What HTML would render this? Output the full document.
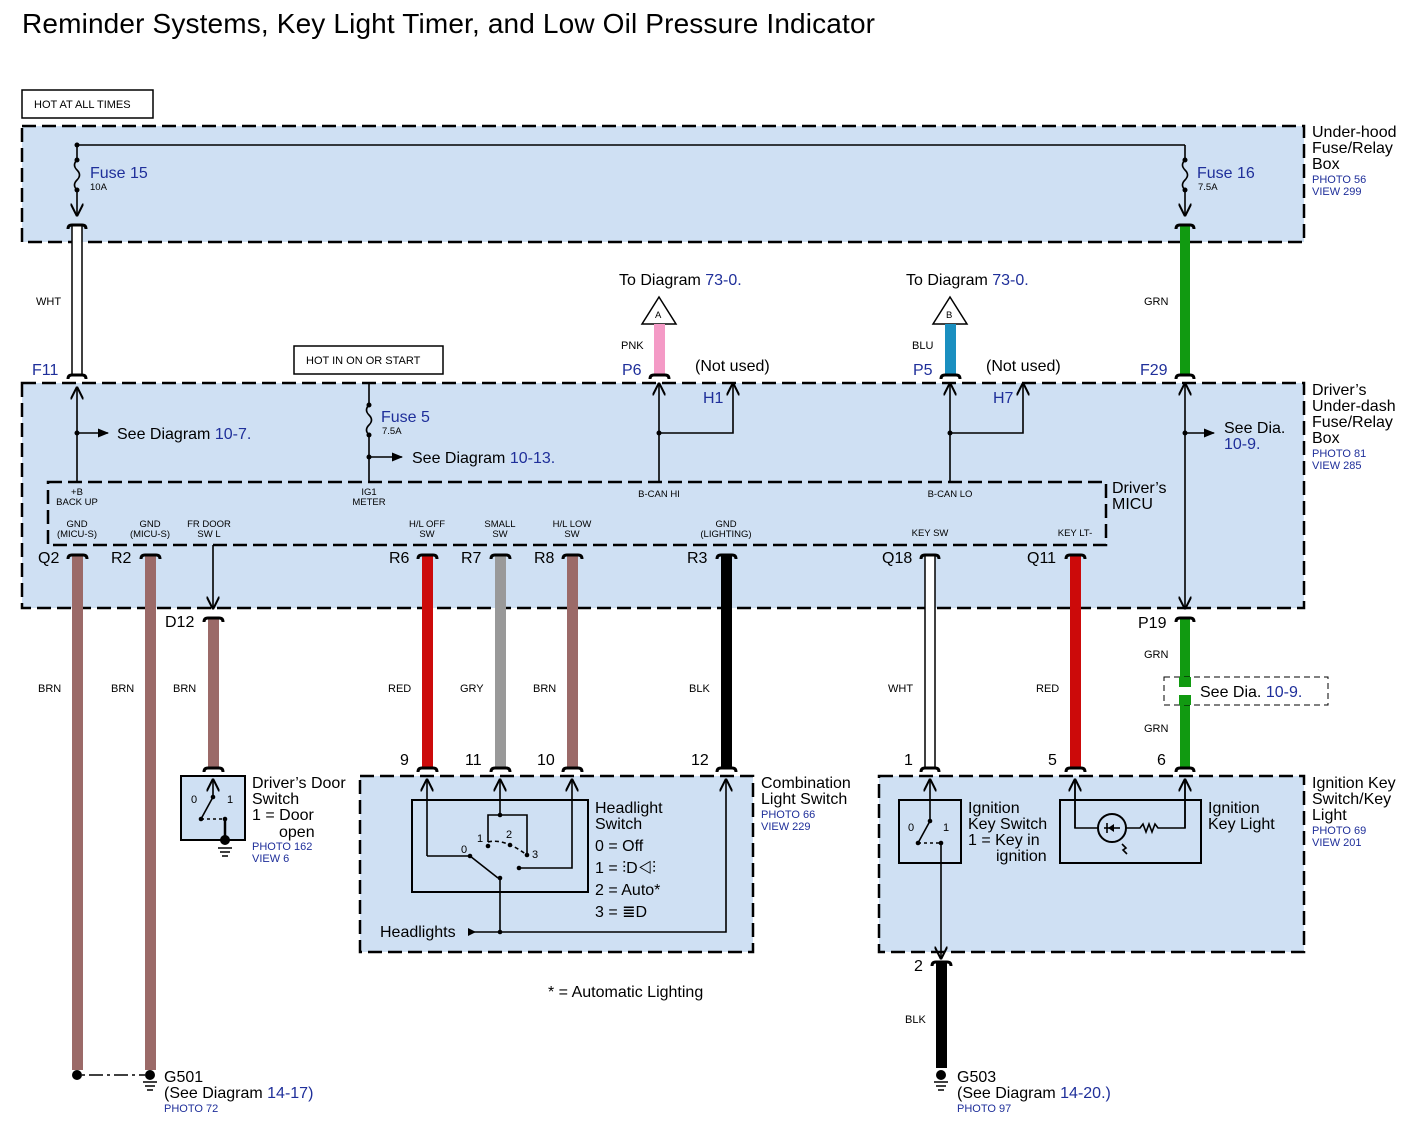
<!DOCTYPE html>
<html><head><meta charset="utf-8"><style>
html,body{margin:0;padding:0;background:#fff}
svg{display:block}
text{font-family:"Liberation Sans",sans-serif;fill:#000}
.b{fill:#1f2f9a}
.l{font-size:16px}
.s{font-size:11px}
.t{font-size:9.5px}
.p{font-size:11px;fill:#1f2f9a}
.box{fill:#cfe0f3;stroke:#000;stroke-width:2.5;stroke-dasharray:14 6}
.ln{stroke:#000;stroke-width:1.6;fill:none}
.cap{stroke:#000;stroke-width:3;fill:none}
</style></head><body>
<svg width="1407" height="1135" viewBox="0 0 1407 1135" xmlns="http://www.w3.org/2000/svg">
<defs>
<marker id="ar" viewBox="0 0 10 10" refX="9" refY="5" markerWidth="8" markerHeight="8" orient="auto-start-reverse"><path d="M0,0 L10,5 L0,10" fill="none" stroke="#000" stroke-width="1.6"/></marker>
<marker id="af" viewBox="0 0 10 10" refX="9" refY="5" markerWidth="7" markerHeight="7" orient="auto"><path d="M0,1 L10,5 L0,9z" fill="#000"/></marker>
</defs>
<text x="22" y="33" style="font-size:28px" textLength="853">Reminder Systems, Key Light Timer, and Low Oil Pressure Indicator</text>

<!-- boxes -->
<rect x="22" y="90" width="131" height="28" fill="#fff" stroke="#000" stroke-width="1.5"/>
<text x="34" y="108" class="s">HOT AT ALL TIMES</text>
<rect x="22" y="126" width="1282" height="116" class="box"/>
<rect x="22" y="383" width="1282" height="225" class="box"/>
<rect x="48" y="482" width="1058" height="63" class="box"/>
<rect x="360" y="776" width="393" height="176" class="box"/>
<rect x="879" y="776" width="425" height="176" class="box"/>
<rect x="294" y="346" width="149" height="28" fill="#fff" stroke="#000" stroke-width="1.5"/>
<text x="306" y="364" class="s">HOT IN ON OR START</text>

<!-- top fuses -->
<path class="ln" d="M77,145 H1185"/>
<circle cx="77" cy="145" r="2.5"/>
<path class="ln" d="M77,145 V160 M77,160 q-5,5 0,10 q5,5 0,10 q-5,5 0,10" />
<circle cx="77" cy="160" r="2.5"/><circle cx="77" cy="190" r="2.5"/>
<path class="ln" d="M77,190 V215" marker-end="url(#ar)"/>
<text x="90" y="178" class="l b">Fuse 15</text><text x="90" y="190" class="t">10A</text>
<path class="ln" d="M1185,145 V160 M1185,160 q-5,5 0,10 q5,5 0,10 q-5,5 0,10"/>
<circle cx="1185" cy="160" r="2.5"/><circle cx="1185" cy="190" r="2.5"/>
<path class="ln" d="M1185,190 V215" marker-end="url(#ar)"/>
<text x="1197" y="178" class="l b">Fuse 16</text><text x="1198" y="190" class="t">7.5A</text>
<text x="1312" y="137" class="l">Under-hood</text><text x="1312" y="153" class="l">Fuse/Relay</text><text x="1312" y="169" class="l">Box</text>
<text x="1312" y="183" class="p">PHOTO 56</text><text x="1312" y="195" class="p">VIEW 299</text>

<!-- WHT F11 -->
<rect x="72" y="225" width="10" height="150" fill="#fff" stroke="#000" stroke-width="1.5"/>
<path class="cap" d="M68,229 Q68,225 72,225 H82 Q86,225 86,229"/>
<path class="cap" d="M68,379 Q68,375 72,375 H82 Q86,375 86,379"/>
<text x="36" y="305" class="s">WHT</text>
<text x="32" y="375" class="l b">F11</text>
<!-- GRN F29 -->
<rect x="1180" y="225" width="10" height="150" fill="#119a11"/>
<path class="cap" d="M1176,229 Q1176,225 1180,225 H1190 Q1194,225 1194,229"/>
<path class="cap" d="M1176,379 Q1176,375 1180,375 H1190 Q1194,375 1194,379"/>
<text x="1144" y="305" class="s">GRN</text>
<text x="1140" y="375" class="l b">F29</text>

<!-- inside second box -->
<path class="ln" d="M77,482 V388" marker-end="url(#ar)"/>
<circle cx="77" cy="433" r="2.5"/><path class="ln" d="M77,433 H108" marker-end="url(#af)"/>
<text x="117" y="439" class="l">See Diagram <tspan class="b">10-7.</tspan></text>
<path class="ln" d="M369,383 V405 M369,405 q-5,5 0,10 q5,5 0,10 q-5,5 0,10 M369,435 V482"/>
<circle cx="369" cy="405" r="2.5"/><circle cx="369" cy="435" r="2.5"/><circle cx="369" cy="457" r="2.5"/>
<path class="ln" d="M369,457 H402" marker-end="url(#af)"/>
<text x="381" y="422" class="l b">Fuse 5</text><text x="382" y="434" class="t">7.5A</text>
<text x="412" y="463" class="l">See Diagram <tspan class="b">10-13.</tspan></text>

<!-- P6 / H1 -->
<text x="619" y="285" class="l">To Diagram <tspan class="b"> 73-0.</tspan></text>
<polygon points="659,297 676,324 642,324" fill="#fff" stroke="#000" stroke-width="1.5"/><text x="655" y="318" class="t">A</text>
<rect x="654" y="324" width="11" height="51" fill="#f49ac6"/>
<path class="cap" d="M650,379 Q650,375 654,375 H665 Q669,375 669,379"/>
<text x="621" y="349" class="s">PNK</text><text x="622" y="375" class="l b">P6</text>
<text x="695" y="371" class="l">(Not used)</text>
<path class="ln" d="M659,482 V384" marker-end="url(#ar)"/>
<circle cx="659" cy="433" r="2.5"/><path class="ln" d="M659,433 H733 V384" marker-end="url(#ar)"/>
<text x="703" y="403" class="l b">H1</text>
<!-- P5 / H7 -->
<text x="906" y="285" class="l">To Diagram <tspan class="b"> 73-0.</tspan></text>
<polygon points="950,297 967,324 933,324" fill="#fff" stroke="#000" stroke-width="1.5"/><text x="946" y="318" class="t">B</text>
<rect x="945" y="324" width="11" height="51" fill="#1a8fc0"/>
<path class="cap" d="M941,379 Q941,375 945,375 H956 Q960,375 960,379"/>
<text x="912" y="349" class="s">BLU</text><text x="913" y="375" class="l b">P5</text>
<text x="986" y="371" class="l">(Not used)</text>
<path class="ln" d="M950,482 V384" marker-end="url(#ar)"/>
<circle cx="950" cy="433" r="2.5"/><path class="ln" d="M950,433 H1023 V384" marker-end="url(#ar)"/>
<text x="993" y="403" class="l b">H7</text>

<!-- right vertical -->
<path class="ln" d="M1185,384 V608" marker-start="url(#ar)" marker-end="url(#ar)" />
<circle cx="1185" cy="433" r="2.5"/><path class="ln" d="M1185,433 H1214" marker-end="url(#af)"/>
<text x="1224" y="433" class="l">See Dia.</text><text x="1224" y="449" class="l b">10-9.</text>
<text x="1312" y="395" class="l">Driver’s</text><text x="1312" y="411" class="l">Under-dash</text><text x="1312" y="427" class="l">Fuse/Relay</text><text x="1312" y="443" class="l">Box</text>
<text x="1312" y="457" class="p">PHOTO 81</text><text x="1312" y="469" class="p">VIEW 285</text>

<!-- MICU labels -->
<g class="t" text-anchor="middle" style="font-size:9.5px">
<text x="77" y="495">+B</text><text x="77" y="505">BACK UP</text>
<text x="369" y="495">IG1</text><text x="369" y="505">METER</text>
<text x="659" y="497">B-CAN HI</text><text x="950" y="497">B-CAN LO</text>
<text x="77" y="527">GND</text><text x="77" y="537">(MICU-S)</text>
<text x="150" y="527">GND</text><text x="150" y="537">(MICU-S)</text>
<text x="209" y="527">FR DOOR</text><text x="209" y="537">SW L</text>
<text x="427" y="527">H/L OFF</text><text x="427" y="537">SW</text>
<text x="500" y="527">SMALL</text><text x="500" y="537">SW</text>
<text x="572" y="527">H/L LOW</text><text x="572" y="537">SW</text>
<text x="726" y="527">GND</text><text x="726" y="537">(LIGHTING)</text>
<text x="930" y="536">KEY SW</text><text x="1075" y="536">KEY LT-</text>
</g>
<text x="1112" y="493" class="l">Driver’s</text><text x="1112" y="509" class="l">MICU</text>

<!-- lower wires -->
<rect x="72" y="555" width="11" height="515" fill="#9b6a68"/>
<rect x="145" y="555" width="11" height="515" fill="#9b6a68"/>
<rect x="208" y="618" width="11" height="150" fill="#9b6a68"/>
<rect x="422" y="555" width="11" height="213" fill="#cc0a0a"/>
<rect x="495" y="555" width="11" height="213" fill="#999"/>
<rect x="567" y="555" width="11" height="213" fill="#9b6a68"/>
<rect x="721" y="555" width="11" height="213" fill="#000"/>
<rect x="925" y="555" width="10" height="213" fill="#fff" stroke="#000" stroke-width="1.5"/>
<rect x="1070" y="555" width="11" height="213" fill="#cc0a0a"/>
<rect x="1180" y="618" width="10" height="150" fill="#119a11"/>
<rect x="936" y="962" width="11" height="106" fill="#000"/>
<g class="cap">
<path d="M68,559 Q68,555 72,555 H83 Q87,555 87,559"/>
<path d="M141,559 Q141,555 145,555 H156 Q160,555 160,559"/>
<path d="M204,622 Q204,618 208,618 H219 Q223,618 223,622"/>
<path d="M204,772 Q204,768 208,768 H219 Q223,768 223,772"/>
<path d="M418,559 Q418,555 422,555 H433 Q437,555 437,559"/>
<path d="M418,772 Q418,768 422,768 H433 Q437,768 437,772"/>
<path d="M491,559 Q491,555 495,555 H506 Q510,555 510,559"/>
<path d="M491,772 Q491,768 495,768 H506 Q510,768 510,772"/>
<path d="M563,559 Q563,555 567,555 H578 Q582,555 582,559"/>
<path d="M563,772 Q563,768 567,768 H578 Q582,768 582,772"/>
<path d="M717,559 Q717,555 721,555 H732 Q736,555 736,559"/>
<path d="M717,772 Q717,768 721,768 H732 Q736,768 736,772"/>
<path d="M921,559 Q921,555 925,555 H935 Q939,555 939,559"/>
<path d="M921,772 Q921,768 925,768 H935 Q939,768 939,772"/>
<path d="M1066,559 Q1066,555 1070,555 H1081 Q1085,555 1085,559"/>
<path d="M1066,772 Q1066,768 1070,768 H1081 Q1085,768 1085,772"/>
<path d="M1176,622 Q1176,618 1180,618 H1190 Q1194,618 1194,622"/>
<path d="M1176,772 Q1176,768 1180,768 H1190 Q1194,768 1194,772"/>
<path d="M932,966 Q932,962 936,962 H947 Q951,962 951,966"/>
</g>
<path class="ln" d="M213,545 V608" marker-end="url(#ar)"/>

<g class="l b">
<text x="38" y="563">Q2</text><text x="111" y="563">R2</text><text x="389" y="563">R6</text><text x="461" y="563">R7</text>
<text x="534" y="563">R8</text><text x="687" y="563">R3</text><text x="882" y="563">Q18</text><text x="1027" y="563">Q11</text>
<text x="165" y="627">D12</text><text x="1138" y="628">P19</text>
</g>
<g class="s">
<text x="38" y="692">BRN</text><text x="111" y="692">BRN</text><text x="173" y="692">BRN</text>
<text x="388" y="692">RED</text><text x="460" y="692">GRY</text><text x="533" y="692">BRN</text>
<text x="689" y="692">BLK</text><text x="888" y="692">WHT</text><text x="1036" y="692">RED</text>
<text x="1144" y="658">GRN</text><text x="1144" y="732">GRN</text><text x="905" y="1023">BLK</text>
</g>
<rect x="1164" y="677" width="164" height="28" fill="#fff" stroke="#000" stroke-width="1" stroke-dasharray="6 4"/>
<rect x="1179" y="677" width="12" height="28" fill="#119a11"/>
<rect x="1176" y="687" width="18" height="8" fill="#fff"/>
<text x="1200" y="697" class="l">See Dia. <tspan class="b">10-9.</tspan></text>

<g class="l">
<text x="400" y="765">9</text><text x="465" y="765">11</text><text x="537" y="765">10</text><text x="691" y="765">12</text>
<text x="904" y="765">1</text><text x="1048" y="765">5</text><text x="1157" y="765">6</text><text x="914" y="971">2</text>
</g>

<!-- door switch -->
<rect x="181" y="776" width="64" height="64" fill="#cfe0f3" stroke="#000" stroke-width="2"/>
<path class="ln" d="M213,797 V780" marker-end="url(#ar)"/>
<circle cx="213" cy="797" r="2.3"/><path class="ln" d="M213,797 L201,819"/><circle cx="201" cy="819" r="2.3"/>
<path class="ln" d="M201,819 H225" stroke-dasharray="3 3"/><circle cx="225" cy="819" r="2.3"/>
<path d="M225,819 V840" stroke="#000" stroke-width="2.5"/><circle cx="225" cy="840" r="5"/>
<path class="ln" d="M218,848 H232 M220,852 H230 M222,856 H228"/>
<text x="191" y="803" class="s">0</text><text x="227" y="803" class="s">1</text>
<text x="252" y="788" class="l">Driver’s Door</text><text x="252" y="804" class="l">Switch</text>
<text x="252" y="820" class="l">1 = Door</text><text x="279" y="837" class="l">open</text>
<text x="252" y="850" class="p">PHOTO 162</text><text x="252" y="862" class="p">VIEW 6</text>

<!-- combination switch -->
<rect x="412" y="800" width="176" height="92" fill="none" stroke="#000" stroke-width="2"/>
<path class="ln" d="M427,856 H470 M427,856 V780" marker-end="url(#ar)"/>
<path class="ln" d="M500,815 V780" marker-end="url(#ar)"/>
<path class="ln" d="M488,842 V815 H527 V855"/>
<path class="ln" d="M519,868 H572 V780" marker-end="url(#ar)"/>
<path class="ln" d="M498,878 L470,856" />
<path class="ln" d="M488,842 Q504,838 527,855" stroke-dasharray="4 3"/>
<circle cx="500" cy="815" r="2.3"/><circle cx="470" cy="856" r="2.3"/><circle cx="488" cy="846" r="2.3"/><circle cx="510" cy="845" r="2.3"/><circle cx="527" cy="855" r="2.3"/><circle cx="519" cy="868" r="2.3"/><circle cx="500" cy="878" r="2.3"/>
<path class="ln" d="M500,878 V932"/><circle cx="500" cy="932" r="2.3"/>
<path class="ln" d="M470,932 H726 V780" marker-end="url(#ar)"/>
<polygon points="468,928 476,932 468,936" fill="#000"/>
<text x="461" y="853" class="s">0</text><text x="477" y="842" class="s">1</text><text x="506" y="838" class="s">2</text><text x="532" y="858" class="s">3</text>
<text x="380" y="937" class="l">Headlights</text>
<text x="595" y="813" class="l">Headlight</text><text x="595" y="829" class="l">Switch</text>
<text x="595" y="851" class="l">0 = Off</text><text x="595" y="873" class="l">1 = ⫶D◁⫶</text>
<text x="595" y="895" class="l">2 = Auto*</text><text x="595" y="917" class="l">3 = ≣D</text>
<text x="761" y="788" class="l">Combination</text><text x="761" y="804" class="l">Light Switch</text>
<text x="761" y="818" class="p">PHOTO 66</text><text x="761" y="830" class="p">VIEW 229</text>
<text x="548" y="997" class="l">* =  Automatic Lighting</text>

<!-- ignition -->
<rect x="899" y="800" width="62" height="63" fill="none" stroke="#000" stroke-width="2"/>
<path class="ln" d="M930,821 V780" marker-end="url(#ar)"/>
<circle cx="930" cy="821" r="2.3"/><path class="ln" d="M930,821 L918,843"/><circle cx="918" cy="843" r="2.3"/>
<path class="ln" d="M918,843 H941" stroke-dasharray="3 3"/><circle cx="941" cy="843" r="2.3"/>
<path class="ln" d="M941,843 V958" marker-end="url(#ar)"/>
<text x="908" y="831" class="s">0</text><text x="943" y="831" class="s">1</text>
<text x="968" y="813" class="l">Ignition</text><text x="968" y="829" class="l">Key Switch</text>
<text x="968" y="845" class="l">1 = Key in</text><text x="996" y="861" class="l">ignition</text>
<rect x="1060" y="800" width="141" height="63" fill="none" stroke="#000" stroke-width="2"/>
<path class="ln" d="M1075,779 V828 H1098 M1126,828 H1140 l3,-4 l3,8 l3,-8 l3,8 l3,-8 l3,4 H1185 V780"/>
<path class="ln" d="M1075,828 V780" marker-end="url(#ar)"/><path class="ln" d="M1185,828 V780" marker-end="url(#ar)"/>
<circle cx="1112" cy="828" r="14" fill="none" stroke="#000" stroke-width="2"/>
<path class="ln" d="M1104,828 H1120"/><polygon points="1108,828 1114,824 1114,832" fill="#000"/><path class="ln" d="M1107,823 V833"/>
<path class="ln" d="M1122,844 l4,4 l-3,2 l4,4" stroke-width="1"/>
<text x="1208" y="813" class="l">Ignition</text><text x="1208" y="829" class="l">Key Light</text>
<text x="1312" y="788" class="l">Ignition Key</text><text x="1312" y="804" class="l">Switch/Key</text><text x="1312" y="820" class="l">Light</text>
<text x="1312" y="834" class="p">PHOTO 69</text><text x="1312" y="846" class="p">VIEW 201</text>

<!-- grounds -->
<circle cx="77" cy="1075" r="5"/><circle cx="150" cy="1075" r="5"/>
<path class="ln" d="M82,1075 H145" stroke-dasharray="3 4 14 4"/>
<path class="ln" d="M143,1082 H157 M145,1086 H155 M147,1090 H153"/>
<text x="164" y="1082" class="l">G501</text><text x="164" y="1098" class="l">(See Diagram <tspan class="b">14-17)</tspan></text>
<text x="164" y="1112" class="p">PHOTO 72</text>
<circle cx="941" cy="1075" r="5"/>
<path class="ln" d="M934,1082 H948 M936,1086 H946 M938,1090 H944"/>
<text x="957" y="1082" class="l">G503</text><text x="957" y="1098" class="l">(See Diagram <tspan class="b">14-20.)</tspan></text>
<text x="957" y="1112" class="p">PHOTO 97</text>
</svg>
</body></html>
